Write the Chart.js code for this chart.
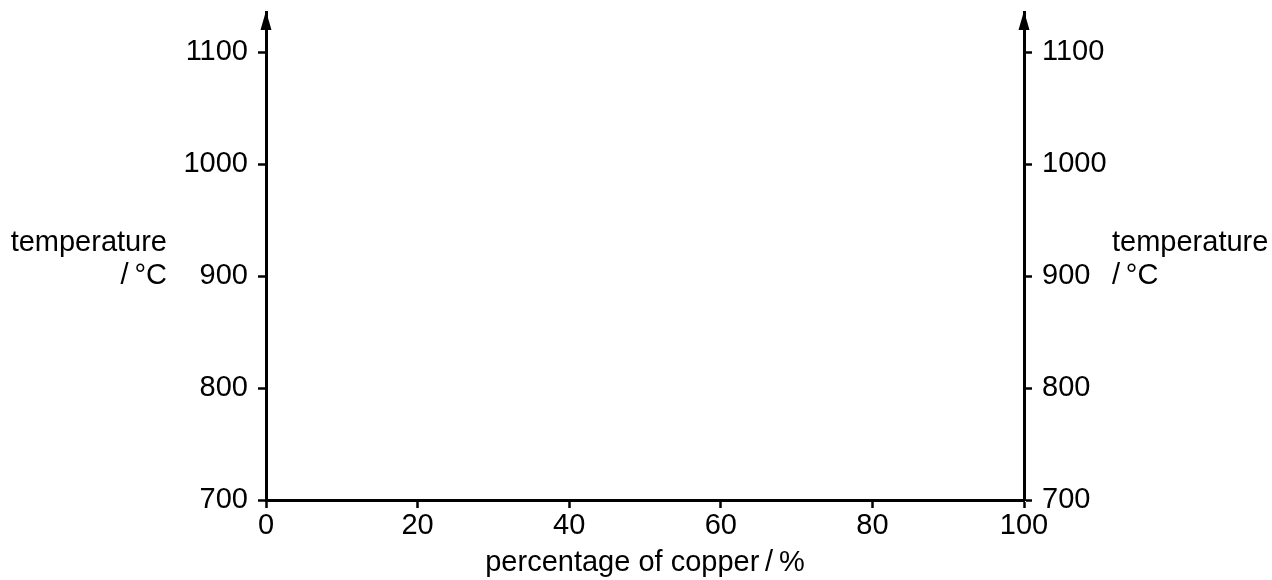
<!DOCTYPE html>
<html>
<head>
<meta charset="utf-8">
<script src="https://cdn.jsdelivr.net/npm/chart.js@4/dist/chart.umd.min.js"></script>
<style>
    html, body { margin: 0; padding: 0; background: #fff; }
    #wrap { width: 1272px; height: 580px; }
</style>
</head>
<body>
<div id="wrap"><canvas id="phaseChart" width="1272" height="580"></canvas></div>
<script>
// axis values
var copperTicks = [0, 20, 40, 60, 80, 100];
var temperatureTicks = [700, 800, 900, 1000, 1100];
var temperatureRange = [700, 1136]; // top runs up into the arrow head
var copperRange = [0, 100];
var yTitleLines = ['temperature', '/\u2009\u00b0C'];
var xTitleText = 'percentage of copper\u2009/\u2009%';

var fontStack = '"Liberation Sans", Arial, Helvetica, sans-serif';
Chart.defaults.font.family = fontStack;
Chart.defaults.font.size = 29;
Chart.defaults.color = '#000';

// arrow heads on both vertical axes + horizontal side titles
var axisExtras = {
    id: 'axisExtras',
    afterDraw: function (chart) {
        var ctx = chart.ctx;
        var area = chart.chartArea;
        var y = chart.scales.y;
        ctx.save();
        ctx.fillStyle = '#000';
        [area.left, area.right].forEach(function (x) {
            ctx.beginPath();
            ctx.moveTo(x, area.top - 1);
            ctx.lineTo(x - 5.5, area.top + 18);
            ctx.lineTo(x + 5.5, area.top + 18);
            ctx.closePath();
            ctx.fill();
        });
        ctx.font = '29px ' + fontStack;
        ctx.textBaseline = 'middle';
        var midY = y.getPixelForValue(900);
        ctx.textAlign = 'right';
        ctx.fillText(yTitleLines[0], area.left - 99, midY - 33);
        ctx.fillText(yTitleLines[1], area.left - 99, midY);
        ctx.textAlign = 'left';
        ctx.fillText(yTitleLines[0], area.right + 88, midY - 33);
        ctx.fillText(yTitleLines[1], area.right + 88, midY);
        ctx.restore();
    }
};

function plainNumber(v) { return String(v); }

function tempAxis(pos, width) {
    return {
        type: 'linear',
        position: pos,
        min: temperatureRange[0],
        max: temperatureRange[1],
        afterBuildTicks: function (scale) {
            scale.ticks = temperatureTicks.map(function (v) { return { value: v }; });
        },
        afterFit: function (scale) {
            scale.width = width;
            scale.paddingTop = 0;    // no label overhang at the top, the arrow sits there
            scale.paddingBottom = 0;
        },
        border: { display: true, color: '#000', width: 3 },
        grid: { drawOnChartArea: false, drawTicks: true, tickLength: 8, tickWidth: 2.5, tickColor: '#000' },
        ticks: { padding: 10, color: '#000', callback: plainNumber }
    };
}

var ctx = document.getElementById('phaseChart').getContext('2d');
var phaseChart = new Chart(ctx, {
    type: 'scatter',
    data: { datasets: [{ data: [] }] },
    options: {
        responsive: false,
        animation: false,
        layout: { padding: { top: 12, left: 0, right: 0, bottom: 0 } },
        plugins: { legend: { display: false }, tooltip: { enabled: false } },
        scales: {
            x: {
                type: 'linear',
                min: copperRange[0],
                max: copperRange[1],
                afterBuildTicks: function (scale) {
                    scale.ticks = copperTicks.map(function (v) { return { value: v }; });
                },
                afterFit: function (scale) { scale.height = 80; },
                border: { display: true, color: '#000', width: 3 },
                grid: { drawOnChartArea: false, drawTicks: true, tickLength: 8, tickWidth: 2.5, tickColor: '#000' },
                ticks: { padding: 1, color: '#000', maxRotation: 0, callback: plainNumber },
                title: { display: true, text: xTitleText, color: '#000', padding: { top: 2, bottom: 0 } }
            },
            y: tempAxis('left', 266),
            y2: tempAxis('right', 248)
        }
    },
    plugins: [axisExtras]
});
</script>
</body>
</html>
